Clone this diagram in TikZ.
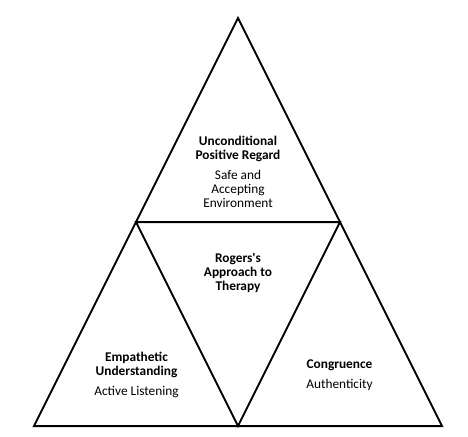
\documentclass[tikz,border=0pt]{standalone}
\usepackage{fontspec}
\setmainfont{Carlito}
\newlength{\du}
\setlength{\du}{0.75pt}
\begin{document}
\begin{tikzpicture}[
  side/.style={line width=1.5pt, line join=miter},
  textblock/.style={align=center, inner sep=0pt, font=\fontsize{10}{10.5}\selectfont}
]
\pgftransformxscale{1.000000}
\pgftransformyscale{-1.000000}
\definecolor{dialinecolor}{rgb}{0.000000, 0.000000, 0.000000}
\pgfsetstrokecolor{dialinecolor}
\useasboundingbox (0\du,0\du) rectangle (468\du,436\du);
% outer corners
\coordinate (apex) at (238.000000\du,18.000000\du);
\coordinate (baseleft) at (34.000000\du,426.000000\du);
\coordinate (baseright) at (442.000000\du,426.000000\du);
% inner corners
\coordinate (midleft) at (136.000000\du,222.000000\du);
\coordinate (midright) at (340.000000\du,222.000000\du);
\coordinate (midbase) at (238.000000\du,426.000000\du);
\draw[side] (baseleft) -- (baseright) -- (apex) -- cycle;
\draw[side] (midleft) -- (midright) -- (midbase) -- cycle;
% texts
\node[textblock] (regard) at (238.000000\du,172.000000\du){\textbf{Unconditional}\\\textbf{Positive Regard}\\[4.5pt]Safe and\\Accepting\\Environment};
\node[textblock] (rogers) at (238.000000\du,272.500000\du){\textbf{Rogers\textquotesingle s}\\\textbf{Approach to}\\\textbf{Therapy}};
\node[textblock] (empathy) at (136.500000\du,375.000000\du){\textbf{Empathetic}\\\textbf{Understanding}\\[4.5pt]Active Listening};
\node[textblock] (congruence) at (339.500000\du,375.500000\du){\textbf{Congruence}\\[4.5pt]Authenticity};
\end{tikzpicture}
\end{document}
